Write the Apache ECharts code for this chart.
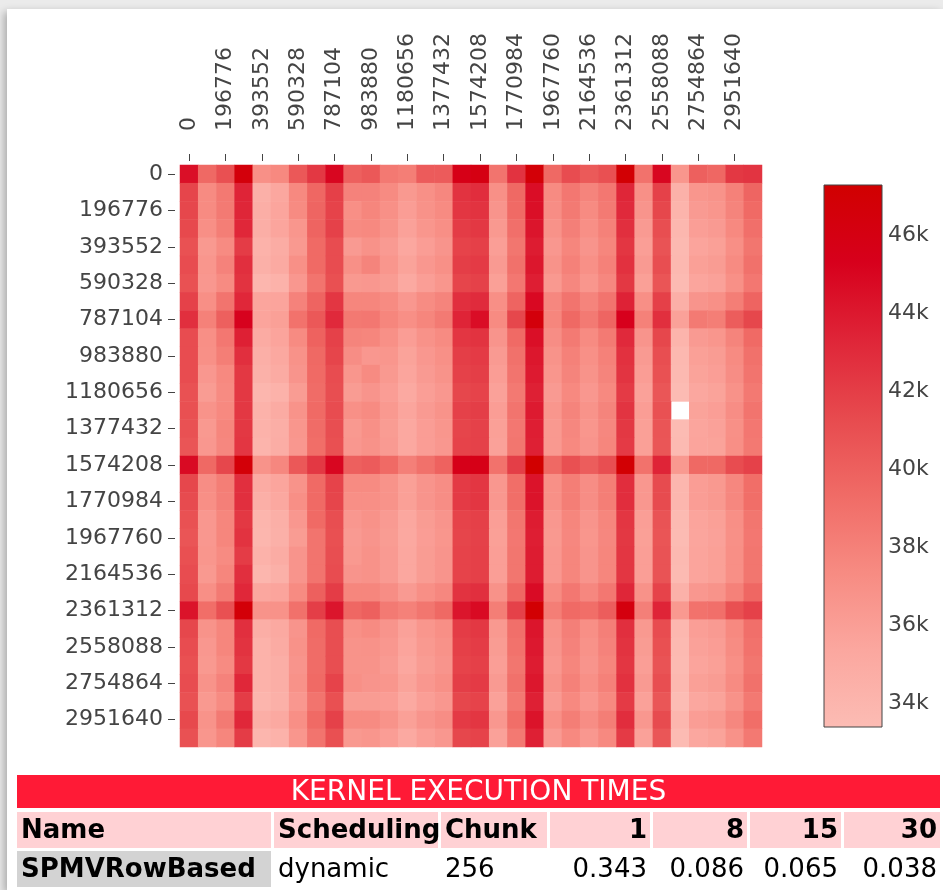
<!DOCTYPE html>
<html>
<head>
<meta charset="utf-8">
<script src="https://cdn.jsdelivr.net/npm/echarts@6/dist/echarts.min.js"></script>
<style>
  html, body { margin: 0; padding: 0; width: 943px; height: 890px; overflow: hidden; background: #ebebeb; }
  #card { position: absolute; left: 7px; top: 9px; width: 936px; height: 881px; background: #fff;
          box-shadow: -3px 3px 8px rgba(0,0,0,0.28); }
  #chart { position: absolute; left: 0; top: 0; width: 943px; height: 890px; }
</style>
</head>
<body>
<div id="card"></div>
<div id="chart"></div>
<script>
// Column / row offsets (bytes) of each tile
const colOffsets = [0, 98388, 196776, 295164, 393552, 491940, 590328, 688716, 787104, 885492,
  983880, 1082268, 1180656, 1279044, 1377432, 1475820, 1574208, 1672596, 1770984, 1869372,
  1967760, 2066148, 2164536, 2262924, 2361312, 2459700, 2558088, 2656476, 2754864, 2853252,
  2951640, 3050028];
const rowOffsets = colOffsets.slice();

// Execution time per tile, in thousands (null = no measurement)
const tileTimesK = [
  [44.5, 39.5, 41.0, 46.5, 37.0, 37.5, 40.5, 42.3, 45.0, 40.0, 40.5, 38.5, 38.2, 40.3, 40.3, 45.7, 46.0, 38.8, 42.6, 46.8, 39.5, 41.2, 40.4, 41.0, 47.0, 38.9, 45.0, 36.6, 40.0, 39.6, 42.3, 42.5],
  [41.6, 37.4, 38.5, 43.4, 34.5, 35.4, 37.5, 39.6, 41.9, 37.9, 37.9, 37.4, 36.4, 37.0, 37.6, 42.6, 42.9, 37.0, 39.5, 44.6, 37.4, 38.6, 37.8, 38.6, 43.3, 37.0, 41.8, 34.4, 36.6, 36.8, 38.0, 39.7],
  [41.5, 37.4, 38.4, 43.3, 34.7, 35.5, 37.4, 39.7, 41.7, 37.1, 37.7, 37.0, 36.1, 36.9, 37.4, 42.4, 42.6, 36.7, 39.4, 44.5, 37.2, 38.4, 37.4, 38.4, 43.1, 36.7, 41.5, 34.2, 36.3, 36.6, 37.8, 39.4],
  [41.4, 37.1, 38.2, 43.2, 34.7, 35.5, 36.6, 39.8, 41.8, 37.4, 37.5, 36.8, 35.8, 36.6, 37.1, 42.1, 42.3, 36.4, 39.1, 44.2, 36.9, 38.1, 37.1, 38.0, 42.8, 36.3, 41.1, 33.9, 36.0, 36.3, 37.5, 39.1],
  [40.9, 36.4, 37.4, 42.1, 34.3, 34.9, 36.4, 39.4, 41.2, 36.3, 36.9, 36.3, 35.4, 36.1, 36.7, 41.7, 41.9, 36.0, 38.7, 43.8, 36.5, 37.7, 36.7, 37.7, 42.4, 36.0, 40.8, 33.7, 35.6, 35.9, 37.1, 38.7],
  [41.2, 36.6, 37.9, 42.8, 34.5, 35.1, 37.0, 39.4, 41.2, 37.0, 37.8, 36.6, 35.7, 36.5, 37.0, 42.0, 42.2, 36.3, 39.0, 44.1, 36.8, 38.0, 37.0, 38.0, 42.7, 36.3, 41.1, 33.8, 35.9, 36.2, 37.4, 39.0],
  [40.9, 36.5, 37.4, 42.6, 34.0, 34.3, 36.5, 38.8, 41.0, 36.4, 36.5, 36.2, 35.2, 36.0, 36.6, 41.6, 41.8, 35.9, 38.6, 43.7, 36.4, 37.6, 36.6, 37.6, 42.3, 35.9, 40.7, 33.6, 35.5, 35.8, 37.0, 38.6],
  [41.8, 37.1, 38.8, 43.2, 35.5, 35.6, 37.9, 39.8, 42.4, 37.7, 37.7, 37.4, 36.5, 37.3, 37.8, 42.8, 43.0, 37.1, 39.8, 44.9, 37.6, 38.8, 37.8, 38.8, 43.5, 37.1, 41.9, 34.6, 36.7, 37.0, 38.2, 39.8],
  [42.8, 38.0, 40.0, 45.2, 35.6, 35.9, 38.9, 40.5, 43.1, 38.5, 38.6, 37.7, 37.1, 37.7, 38.4, 43.4, 44.6, 37.4, 41.5, 46.5, 37.7, 39.5, 38.4, 39.7, 45.3, 38.0, 42.8, 35.8, 38.4, 38.2, 40.2, 41.5],
  [41.2, 37.1, 38.6, 43.6, 35.0, 35.6, 37.4, 39.9, 41.8, 37.8, 37.7, 37.0, 36.1, 36.9, 37.4, 42.4, 42.6, 36.7, 39.4, 44.5, 37.2, 38.4, 37.4, 38.4, 43.1, 36.7, 41.5, 34.2, 36.3, 36.6, 37.8, 39.4],
  [41.2, 37.0, 38.2, 42.8, 34.6, 35.3, 36.9, 39.5, 41.6, 37.2, 36.5, 36.6, 35.7, 36.5, 37.0, 42.0, 42.2, 36.3, 39.0, 44.1, 36.8, 38.0, 37.0, 38.0, 42.7, 36.3, 41.1, 33.8, 35.9, 36.2, 37.4, 39.0],
  [41.2, 36.5, 37.5, 42.3, 34.4, 35.0, 36.7, 39.4, 41.2, 36.6, 37.4, 36.4, 35.5, 36.3, 36.8, 41.8, 42.0, 36.1, 38.8, 43.9, 36.6, 37.8, 36.8, 37.8, 42.5, 36.1, 40.9, 33.7, 35.7, 36.0, 37.2, 38.8],
  [40.9, 36.2, 37.4, 42.3, 34.0, 34.3, 36.2, 39.3, 41.1, 36.2, 36.7, 36.1, 35.2, 36.0, 36.5, 41.5, 41.7, 35.8, 38.5, 43.6, 36.3, 37.5, 36.5, 37.5, 42.2, 35.8, 40.6, 33.5, 35.4, 35.7, 36.9, 38.5],
  [41.0, 36.8, 37.5, 42.3, 34.3, 35.0, 36.8, 39.4, 41.2, 37.0, 37.4, 36.4, 35.5, 36.3, 36.8, 41.8, 42.0, 36.1, 38.8, 43.9, 36.6, 37.8, 36.8, 37.8, 42.5, 36.1, 40.9, null, 35.7, 36.0, 37.2, 38.8],
  [40.9, 36.4, 37.7, 42.3, 34.3, 34.7, 36.6, 39.3, 41.1, 36.4, 37.0, 36.2, 35.3, 36.1, 36.6, 41.6, 41.8, 35.9, 38.6, 43.7, 36.4, 37.6, 36.6, 37.6, 42.3, 35.9, 40.7, 33.5, 35.5, 35.8, 37.0, 38.6],
  [40.7, 36.5, 37.6, 42.4, 34.2, 34.8, 36.5, 39.2, 41.0, 36.5, 36.9, 36.3, 35.3, 36.1, 36.5, 41.7, 41.8, 35.8, 38.7, 43.6, 36.4, 37.5, 36.7, 37.7, 42.2, 35.9, 40.6, 33.6, 35.6, 35.7, 37.1, 38.5],
  [44.8, 39.5, 41.5, 46.7, 36.8, 37.6, 40.5, 42.3, 45.0, 40.0, 40.3, 39.4, 38.1, 39.0, 39.9, 45.5, 45.7, 38.9, 42.0, 47.3, 39.5, 41.0, 40.2, 41.1, 47.0, 38.9, 43.4, 36.4, 39.5, 39.5, 41.2, 41.8],
  [41.5, 37.2, 38.2, 42.8, 35.0, 35.5, 36.8, 39.4, 41.7, 37.4, 37.4, 36.8, 35.9, 36.7, 37.2, 42.2, 42.4, 36.5, 39.2, 44.3, 37.0, 38.2, 37.2, 38.2, 42.9, 36.5, 41.3, 34.0, 36.1, 36.4, 37.6, 39.2],
  [41.3, 37.1, 38.1, 42.8, 34.6, 35.3, 37.1, 39.4, 41.6, 37.1, 37.1, 36.8, 35.9, 36.7, 37.2, 42.2, 42.4, 36.5, 39.2, 44.3, 37.0, 38.2, 37.2, 38.2, 42.9, 36.5, 41.3, 34.0, 36.1, 36.4, 37.6, 39.2],
  [40.9, 36.5, 37.7, 42.3, 34.1, 34.6, 36.5, 39.4, 41.1, 36.5, 36.9, 36.3, 35.4, 36.2, 36.7, 41.7, 41.9, 36.0, 38.7, 43.8, 36.5, 37.7, 36.7, 37.7, 42.4, 36.0, 40.8, 33.6, 35.6, 35.9, 37.1, 38.7],
  [40.7, 36.5, 37.7, 42.6, 34.0, 34.5, 36.2, 38.8, 41.0, 36.3, 36.7, 36.2, 35.3, 36.1, 36.6, 41.6, 41.8, 35.9, 38.6, 43.7, 36.4, 37.6, 36.6, 37.6, 42.3, 35.9, 40.7, 33.5, 35.5, 35.8, 37.0, 38.6],
  [41.0, 36.6, 37.4, 42.1, 34.3, 34.9, 36.7, 38.8, 41.1, 36.4, 36.9, 36.3, 35.4, 36.2, 36.7, 41.7, 41.9, 36.0, 38.7, 43.8, 36.5, 37.7, 36.7, 37.7, 42.4, 36.0, 40.8, 33.7, 35.6, 35.9, 37.1, 38.7],
  [41.2, 36.4, 37.7, 42.8, 34.0, 34.5, 36.7, 38.8, 41.2, 36.7, 36.9, 36.3, 35.4, 36.2, 36.7, 41.7, 41.9, 36.0, 38.7, 43.8, 36.5, 37.7, 36.7, 37.7, 42.4, 36.0, 40.8, 33.6, 35.6, 35.9, 37.1, 38.7],
  [41.4, 37.1, 38.4, 43.2, 35.4, 35.6, 37.4, 40.0, 42.1, 37.7, 37.7, 37.2, 36.3, 37.1, 37.6, 42.6, 42.8, 36.9, 39.6, 44.7, 37.4, 38.6, 37.6, 38.6, 43.3, 36.9, 41.7, 34.4, 36.5, 36.8, 38.0, 39.6],
  [44.3, 39.2, 41.0, 46.7, 36.8, 36.9, 39.0, 42.0, 44.2, 39.6, 40.0, 38.4, 38.0, 38.7, 39.5, 44.2, 44.8, 38.2, 41.8, 47.1, 38.2, 39.4, 39.2, 40.2, 46.3, 38.1, 43.4, 36.4, 38.9, 39.1, 41.0, 41.8],
  [41.5, 36.8, 37.7, 42.8, 34.7, 35.2, 36.7, 39.4, 41.1, 37.0, 37.4, 36.7, 35.8, 36.6, 37.1, 42.1, 42.3, 36.4, 39.1, 44.2, 36.9, 38.1, 37.1, 38.1, 42.8, 36.4, 41.2, 33.9, 36.0, 36.3, 37.5, 39.1],
  [41.2, 36.5, 37.7, 42.6, 34.3, 35.0, 36.9, 39.3, 41.1, 36.8, 36.9, 36.5, 35.6, 36.4, 36.9, 41.9, 42.1, 36.2, 38.9, 44.0, 36.7, 37.9, 36.9, 37.9, 42.6, 36.2, 41.0, 33.7, 35.8, 36.1, 37.3, 38.9],
  [41.0, 36.4, 37.4, 42.3, 34.3, 34.7, 36.7, 39.3, 41.1, 36.8, 36.8, 36.3, 35.4, 36.2, 36.7, 41.7, 41.9, 36.0, 38.7, 43.8, 36.5, 37.7, 36.7, 37.7, 42.4, 36.0, 40.8, 33.6, 35.6, 35.9, 37.1, 38.7],
  [41.2, 36.8, 37.9, 43.2, 34.3, 34.7, 36.9, 39.4, 41.7, 37.0, 36.7, 36.6, 35.7, 36.5, 37.0, 42.0, 42.2, 36.3, 39.0, 44.1, 36.8, 38.0, 37.0, 38.0, 42.7, 36.3, 41.1, 33.8, 35.9, 36.2, 37.4, 39.0],
  [40.9, 36.4, 37.4, 42.1, 34.1, 34.5, 36.5, 38.8, 41.0, 36.2, 36.2, 36.1, 35.2, 36.0, 36.5, 41.5, 41.7, 35.8, 38.5, 43.6, 36.3, 37.5, 36.5, 37.5, 42.2, 35.8, 40.6, 33.4, 35.4, 35.7, 36.9, 38.5],
  [41.4, 36.8, 38.4, 43.2, 34.7, 35.2, 37.1, 39.4, 41.8, 37.4, 37.4, 36.8, 35.9, 36.7, 37.2, 42.2, 42.4, 36.5, 39.2, 44.3, 37.0, 38.2, 37.2, 38.2, 42.9, 36.5, 41.3, 34.0, 36.1, 36.4, 37.6, 39.2],
  [40.9, 36.6, 37.7, 42.1, 34.0, 34.3, 36.6, 38.8, 41.0, 36.4, 36.6, 36.1, 35.2, 36.0, 36.5, 41.5, 41.7, 35.8, 38.5, 43.6, 36.3, 37.5, 36.5, 37.5, 42.2, 35.8, 40.6, 33.5, 35.4, 35.7, 36.9, 38.5]
];

// Colour bar ticks (thousands) and colour ramp, light to dark
const colorbarTicks = [34, 36, 38, 40, 42, 44, 46];
const rampColors = ['#fcbcb4', '#fba79f', '#f78b82', '#f06b66', '#e74a4e', '#df2538', '#d7001c', '#d10000'];

// Summary table
const tableTitle = 'KERNEL EXECUTION TIMES';
const tableHeader = ['Name', 'Scheduling', 'Chunk', '1', '8', '15', '30'];
const tableRow = ['SPMVRowBased', 'dynamic', '256', '0.343', '0.086', '0.065', '0.038'];

// ---------------------------------------------------------------------------
const cells = [];
const flat = [];
tileTimesK.forEach((row, r) => row.forEach((v, c) => {
  if (v === null) { cells.push([c, r, '-']); return; }
  cells.push([c, r, v]);
  flat.push(v);
}));
const zMin = Math.min.apply(null, flat);
const zMax = Math.max.apply(null, flat);

const gradient = new echarts.graphic.LinearGradient(0, 1, 0, 0,
  rampColors.map((c, i) => ({ offset: i / (rampColors.length - 1), color: c })));

const FONT = 'DejaVu Sans, Verdana, sans-serif';
const TXT = '#444';

// table geometry
const colSpans = [[17, 271], [274, 438], [441, 547], [550, 650], [653, 747], [750, 841], [844, 940]];
const colAlign = ['left', 'left', 'left', 'right', 'right', 'right', 'right'];
const titleBox = { x: 17, y: 775, w: 923, h: 33 };
const headY = 812, rowY = 851, rowH = 36;

const tableGraphics = [];
tableGraphics.push({ type: 'rect', shape: { x: titleBox.x, y: titleBox.y, width: titleBox.w, height: titleBox.h },
  style: { fill: '#ff1a36' }, silent: true });
tableGraphics.push({ type: 'text', x: titleBox.x + titleBox.w / 2, y: titleBox.y + titleBox.h / 2 + 1,
  style: { text: tableTitle, fill: '#fff', font: '28px ' + FONT, align: 'center', verticalAlign: 'middle' }, silent: true });

function addRow(values, y, bold, fills) {
  values.forEach((t, i) => {
    const [x0, x1] = colSpans[i];
    if (fills[i]) {
      tableGraphics.push({ type: 'rect', shape: { x: x0, y: y, width: x1 - x0, height: rowH },
        style: { fill: fills[i] }, silent: true });
    }
    const right = colAlign[i] === 'right';
    tableGraphics.push({ type: 'text', x: right ? x1 - 3 : x0 + 4, y: y + rowH / 2 + 1,
      style: { text: t, fill: '#000', font: (bold[i] ? 'bold ' : '') + '26px ' + FONT,
        align: right ? 'right' : 'left', verticalAlign: 'middle' }, silent: true });
  });
}
addRow(tableHeader, headY, tableHeader.map(() => true), tableHeader.map(() => '#ffd1d4'));
addRow(tableRow, rowY, [true, false, false, false, false, false, false],
  ['#d3d3d3', null, null, null, null, null, null]);

const chart = echarts.init(document.getElementById('chart'), null, { renderer: 'canvas' });
chart.setOption({
  animation: false,
  backgroundColor: 'transparent',
  grid: [
    { left: 180, top: 165, width: 582, height: 582 },
    { left: 824, top: 185, width: 58, height: 542, show: true, backgroundColor: gradient,
      borderColor: '#444', borderWidth: 1 }
  ],
  xAxis: [
    {
      gridIndex: 0, type: 'category', data: colOffsets, position: 'top', offset: 4,
      axisLine: { show: false },
      axisTick: { show: true, alignWithLabel: true, interval: 1, length: 7, lineStyle: { color: TXT } },
      axisLabel: { interval: 1, rotate: -90, margin: 30, fontSize: 22, fontFamily: FONT, color: TXT },
      splitLine: { show: false }
    },
    { gridIndex: 1, type: 'value', show: false }
  ],
  yAxis: [
    {
      gridIndex: 0, type: 'category', data: rowOffsets, inverse: true, offset: 5,
      axisLine: { show: false },
      axisTick: { show: true, alignWithLabel: true, interval: 1, length: 7, lineStyle: { color: TXT } },
      axisLabel: { interval: 1, margin: 12, fontSize: 22, fontFamily: FONT, color: TXT },
      splitLine: { show: false }
    },
    {
      gridIndex: 1, type: 'value', position: 'right', min: zMin, max: zMax,
      axisLine: { show: false }, axisTick: { show: false }, splitLine: { show: false },
      axisLabel: { customValues: colorbarTicks, formatter: v => v + 'k', margin: 6,
        fontSize: 22, fontFamily: FONT, color: TXT }
    }
  ],
  visualMap: {
    show: false, type: 'continuous', seriesIndex: 0, dimension: 2,
    min: zMin, max: zMax, inRange: { color: rampColors }
  },
  series: [{
    type: 'heatmap', xAxisIndex: 0, yAxisIndex: 0, data: cells,
    itemStyle: { borderWidth: 0 }, emphasis: { disabled: true }
  }],
  graphic: tableGraphics
});
</script>
</body>
</html>
